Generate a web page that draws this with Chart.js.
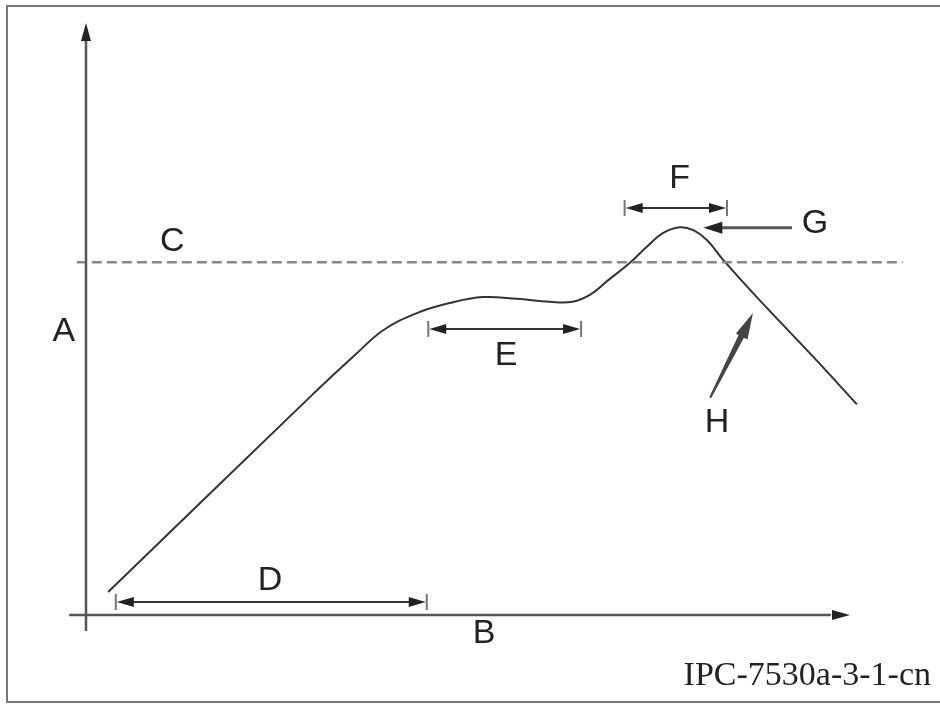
<!DOCTYPE html>
<html>
<head>
<meta charset="utf-8">
<script src="https://cdn.jsdelivr.net/npm/chart.js@4"></script>
<style>
  html, body { margin: 0; padding: 0; background: #fff; }
  #wrap { width: 940px; height: 704px; position: relative; }
</style>
</head>
<body>
<div id="wrap"><canvas id="c"></canvas></div>
<script>
// ── Data (axis units: 0..100 on both axes) ─────────────────────────────
var curveX = [2.9, 29.3, 35.2, 38.9, 43.3, 47.6, 52.0, 56.4, 60.7, 63.7, 66.0, 68.2, 71.2, 73.4, 75.5, 77.7, 79.5, 81.3, 83.4, 87.8, 95.2, 100.9];
var curveY = [3.9, 36.8, 43.9, 48.1, 51.0, 52.7, 53.7, 53.4, 52.9, 52.9, 54.1, 56.4, 59.5, 62.2, 64.5, 65.5, 65.0, 63.3, 60.0, 53.7, 43.6, 35.6];

var levelC = 59.6;
var levelSpan = [-1.2, 106.9];

// dimension arrows: [label, from, to, y]
var dimLabels = ['D', 'E', 'F'];
var dimFrom   = [3.9, 44.8, 70.5];
var dimTo     = [44.6, 64.8, 83.9];
var dimY      = [2.2, 48.3, 68.75];

// axis / note labels
var noteText = ['A', 'B', 'C', 'D', 'E', 'F', 'G', 'H'];
var noteX    = [-2.9, 52.1, 11.3, 24.1, 55.0, 77.7, 95.4, 82.6];
var noteY    = [48.1, -2.9, 63.3, 5.9, 43.9, 73.8, 66.2, 32.6];

// G pointer (tail -> tip) and H wedge (tail -> tip)
var gArrow = { x0: 92.4, x1: 80.8, y: 65.4 };
var hArrow = { x0: 81.7, y0: 36.7, x1: 87.3, y1: 51.0 };

var figureId = 'IPC-7530a-3-1-cn';

var INK = '#333';
var AXIS = '#555';
var SANS = "'Liberation Sans', Arial, sans-serif";
var SERIF = "'Liberation Serif', 'Times New Roman', serif";

function tri(ctx, tx, ty, dx, dy, len, half) {
    // filled arrow head with tip at (tx,ty), pointing along (dx,dy)
    var n = Math.sqrt(dx * dx + dy * dy); dx /= n; dy /= n;
    var bx = tx - dx * len, by = ty - dy * len;
    ctx.beginPath();
    ctx.moveTo(tx, ty);
    ctx.lineTo(bx - dy * half, by + dx * half);
    ctx.lineTo(bx + dy * half, by - dx * half);
    ctx.closePath();
    ctx.fill();
}

// ── Plugin: frame, axes, arrows, labels ───────────────────────────────
var decor = {
    id: 'decor',
    beforeDraw: function (chart) {
        var ctx = chart.ctx;
        ctx.save();
        ctx.fillStyle = '#fff';
        ctx.fillRect(0, 0, chart.width, chart.height);
        // frame (open on the right)
        ctx.strokeStyle = '#777';
        ctx.lineWidth = 2;
        ctx.beginPath();
        ctx.moveTo(chart.width, 6);
        ctx.lineTo(7, 6);
        ctx.lineTo(7, 702);
        ctx.lineTo(chart.width, 702);
        ctx.stroke();
        ctx.restore();
    },
    afterDatasetsDraw: function (chart) {
        var ctx = chart.ctx;
        var xs = chart.scales.x, ys = chart.scales.y;
        var X = function (v) { return xs.getPixelForValue(v); };
        var Y = function (v) { return ys.getPixelForValue(v); };
        ctx.save();

        // axes
        ctx.strokeStyle = AXIS;
        ctx.fillStyle = '#222';
        ctx.lineWidth = 2.5;
        ctx.beginPath();
        ctx.moveTo(X(0), Y(-2.7));
        ctx.lineTo(X(0), Y(97));
        ctx.moveTo(X(-2.2), Y(0));
        ctx.lineTo(X(97.5), Y(0));
        ctx.stroke();
        tri(ctx, X(0), Y(100), 0, -1, 18, 5);
        tri(ctx, X(100), Y(0), 1, 0, 18, 5);

        // dimension arrows
        for (var i = 0; i < dimLabels.length; i++) {
            var a = X(dimFrom[i]), b = X(dimTo[i]), y = Y(dimY[i]);
            ctx.strokeStyle = '#777';
            ctx.lineWidth = 2;
            ctx.beginPath();
            ctx.moveTo(a, y - 8); ctx.lineTo(a, y + 8);
            ctx.moveTo(b, y - 8); ctx.lineTo(b, y + 8);
            ctx.stroke();
            ctx.strokeStyle = '#333';
            ctx.beginPath();
            ctx.moveTo(a + 8, y); ctx.lineTo(b - 8, y);
            ctx.stroke();
            ctx.fillStyle = '#222';
            tri(ctx, a + 1, y, -1, 0, 17, 5);
            tri(ctx, b - 1, y, 1, 0, 17, 5);
        }

        // G pointer
        ctx.strokeStyle = '#555';
        ctx.lineWidth = 3;
        ctx.beginPath();
        ctx.moveTo(X(gArrow.x0), Y(gArrow.y));
        ctx.lineTo(X(gArrow.x1) + 12, Y(gArrow.y));
        ctx.stroke();
        ctx.fillStyle = '#222';
        tri(ctx, X(gArrow.x1), Y(gArrow.y), -1, 0, 19, 6);

        // H wedge
        var tx = X(hArrow.x0), ty = Y(hArrow.y0), px = X(hArrow.x1), py = Y(hArrow.y1);
        var dx = px - tx, dy = py - ty, n = Math.sqrt(dx * dx + dy * dy);
        dx /= n; dy /= n;
        var hx = px - dx * 26, hy = py - dy * 26;
        ctx.fillStyle = '#444';
        ctx.beginPath();
        ctx.moveTo(tx - dy * 1, ty + dx * 1);
        ctx.lineTo(hx - dy * 3, hy + dx * 3);
        ctx.lineTo(hx - dy * 7, hy + dx * 7);
        ctx.lineTo(px, py);
        ctx.lineTo(hx + dy * 6, hy - dx * 6);
        ctx.lineTo(hx + dy * 3, hy - dx * 3);
        ctx.lineTo(tx + dy * 1, ty - dx * 1);
        ctx.closePath();
        ctx.fill();

        // letters
        ctx.fillStyle = '#222';
        ctx.font = '34px ' + SANS;
        ctx.textAlign = 'center';
        ctx.textBaseline = 'middle';
        for (var k = 0; k < noteText.length; k++) {
            ctx.fillText(noteText[k], X(noteX[k]), Y(noteY[k]) + 1);
        }

        // figure id
        ctx.font = '34px ' + SERIF;
        ctx.textAlign = 'right';
        ctx.textBaseline = 'alphabetic';
        ctx.fillText(figureId, 931, 685);
        ctx.restore();
    }
};

new Chart(document.getElementById('c'), {
    type: 'scatter',
    data: {
        datasets: [
            {
                label: 'C',
                data: levelSpan.map(function (x) { return { x: x, y: levelC }; }),
                showLine: true,
                borderColor: '#888',
                borderWidth: 2.5,
                borderDash: [10, 5],
                pointRadius: 0,
                clip: false
            },
            {
                label: 'profile',
                data: curveX.map(function (x, i) { return { x: x, y: curveY[i] }; }),
                showLine: true,
                borderColor: INK,
                borderWidth: 2,
                tension: 0.4,
                pointRadius: 0,
                clip: false
            }
        ]
    },
    options: {
        responsive: true,
        maintainAspectRatio: false,
        animation: false,
        layout: { padding: { left: 86, right: 90, top: 23, bottom: 89 } },
        plugins: { legend: { display: false }, tooltip: { enabled: false } },
        scales: {
            x: { type: 'linear', min: 0, max: 100, display: false },
            y: { type: 'linear', min: 0, max: 100, display: false }
        }
    },
    plugins: [decor]
});
</script>
</body>
</html>
